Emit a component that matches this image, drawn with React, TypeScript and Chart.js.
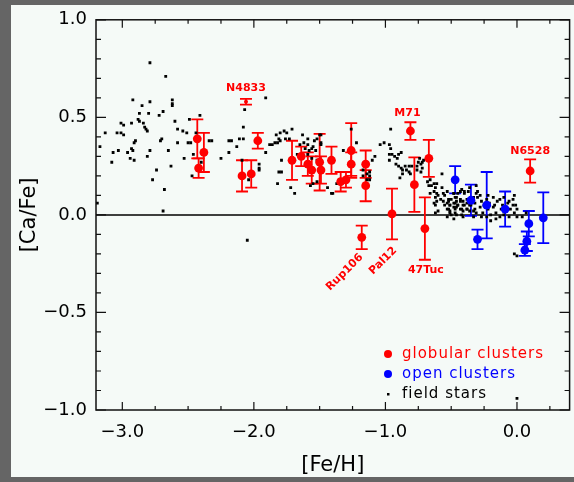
import React, { useEffect, useRef } from "react";
import { Chart, registerables } from "chart.js";
Chart.register(...registerables);

// ---------- data ----------
const gcNames = ["", "", "", "", "", "", "N4833", "", "", "", "", "", "", "", "", "", "", "", "", "", "Rup106", "Pal12", "M71", "", "", "47Tuc", "N6528"];
const gcFeH = [-2.43, -2.38, -2.42, -2.09, -2.02, -1.97, -2.06, -1.71, -1.64, -1.59, -1.56, -1.50, -1.49, -1.41, -1.34, -1.30, -1.26, -1.26, -1.15, -1.15, -1.18, -0.95, -0.81, -0.78, -0.67, -0.70, 0.10];
const gcCaFe = [0.39, 0.32, 0.24, 0.20, 0.21, 0.38, 0.58, 0.28, 0.30, 0.26, 0.23, 0.27, 0.23, 0.28, 0.17, 0.18, 0.33, 0.26, 0.26, 0.15, -0.115, 0.005, 0.43, 0.155, 0.29, -0.07, 0.225];
const gcErr = [0.10, 0.10, 0.05, 0.08, 0.07, 0.04, 0.015, 0.10, 0.05, 0.06, 0.07, 0.145, 0.07, 0.07, 0.05, 0.04, 0.14, 0.06, 0.07, 0.08, 0.06, 0.13, 0.045, 0.14, 0.095, 0.16, 0.06];

const ocFeH = [-0.47, -0.35, -0.30, -0.23, -0.09, 0.09, 0.075, 0.06, 0.20];
const ocCaFe = [0.18, 0.075, -0.125, 0.05, 0.03, -0.045, -0.135, -0.18, -0.015];
const ocErr = [0.07, 0.08, 0.05, 0.17, 0.09, 0.065, 0.05, 0.03, 0.13];

const fieldStars: [number, number][] = [
  [-2.79,0.78],[-2.67,0.71],[-2.92,0.59],[-2.85,0.56],[-2.79,0.58],[-2.62,0.59],[-2.62,0.57],[-2.62,0.56],[-2.87,0.52],[-2.80,0.52],
  [-2.72,0.51],[-2.69,0.53],[-2.60,0.48],[-2.49,0.49],[-2.41,0.51],[-3.01,0.47],[-2.99,0.46],[-2.93,0.47],[-2.88,0.49],[-2.87,0.48],
  [-2.84,0.47],[-2.83,0.45],[-2.82,0.44],[-2.81,0.43],[-2.58,0.44],[-2.54,0.43],[-2.51,0.42],[-2.44,0.42],[-3.13,0.42],[-3.04,0.42],
  [-3.01,0.42],[-2.99,0.41],[-2.70,0.39],[-2.71,0.38],[-2.90,0.38],[-2.91,0.37],[-2.58,0.37],[-2.50,0.37],[-2.48,0.37],[-2.34,0.38],
  [-2.32,0.38],[-2.19,0.38],[-2.17,0.38],[-3.17,0.35],[-2.93,0.34],[-2.92,0.33],[-2.79,0.33],[-2.65,0.33],[-3.07,0.32],[-3.03,0.33],
  [-2.96,0.32],[-2.81,0.30],[-2.19,0.32],[-2.94,0.29],[-2.91,0.28],[-2.53,0.29],[-2.25,0.29],[-3.08,0.27],[-2.63,0.25],[-2.74,0.23],
  [-2.46,0.31],[-2.40,0.27],[-2.77,0.18],[-2.68,0.13],[-3.19,0.06],[-2.69,0.02],[-2.47,0.20],[-2.05,-0.13],
  [-1.91,0.60],[-2.07,0.54],[-2.08,0.45],[-2.11,0.39],[-2.08,0.39],[-2.13,0.35],[-1.91,0.32],[-1.96,0.26],[-1.96,0.24],[-1.96,0.23],
  [-2.04,0.18],[-2.09,0.28],[-1.88,0.36],[-1.86,0.36],[-1.84,0.37],[-1.83,0.41],[-1.81,0.39],[-1.80,0.42],[-1.77,0.43],[-1.75,0.42],
  [-1.71,0.44],[-1.82,0.37],[-1.80,0.38],[-1.76,0.39],[-1.73,0.39],[-1.82,0.16],[-1.79,0.28],[-1.81,0.22],[-1.79,0.22],[-1.72,0.14],
  [-1.69,0.11],[-1.63,0.41],[-1.65,0.36],[-1.59,0.39],[-1.59,0.36],[-1.56,0.34],[-1.54,0.38],[-1.52,0.39],[-1.50,0.41],[-1.49,0.41],
  [-1.49,0.37],[-1.49,0.36],[-1.61,0.34],[-1.59,0.31],[-1.67,0.31],[-1.65,0.30],[-1.56,0.29],[-1.52,0.28],[-1.57,0.15],[-1.55,0.16],
  [-1.52,0.17],[-1.41,0.11],[-1.44,0.14],[-1.32,0.33],[-1.35,0.18],[-1.26,0.44],[-1.22,0.37],[-1.17,0.23],[-1.17,0.20],[-1.14,0.21],
  [-1.12,0.22],[-1.12,0.20],[-1.12,0.18],[-1.14,0.18],[-1.10,0.28],[-1.08,0.30],[-1.62,0.37],[-1.58,0.33],[-1.55,0.35],[-1.53,0.33],
  [-1.37,0.16],[-1.40,0.11],
  [-0.96,0.44],[-1.04,0.36],[-1.01,0.37],[-0.97,0.36],[-0.96,0.34],[-0.97,0.31],[-0.95,0.31],[-0.93,0.30],[-0.91,0.29],[-0.90,0.31],
  [-0.88,0.32],[-0.97,0.28],[-0.92,0.26],[-0.90,0.25],[-0.88,0.24],[-0.87,0.23],[-0.87,0.21],[-0.89,0.19],[-0.85,0.25],[-0.82,0.25],
  [-0.80,0.25],[-0.84,0.23],[-0.82,0.22],[-0.81,0.21],[-0.76,0.25],[-0.75,0.27],[-0.73,0.26],[-0.72,0.27],[-0.76,0.23],[-0.73,0.22],
  [-0.72,0.24],[-0.74,0.29],[-0.71,0.28],[-0.68,0.17],[-0.66,0.18],[-0.63,0.16],[-0.65,0.15],[-0.67,0.15],[-0.62,0.14],[-0.61,0.16],
  [-0.57,0.21],[-0.66,0.11],[-0.63,0.12],[-0.62,0.09],[-0.61,0.11],[-0.60,0.10],[-0.58,0.08],[-0.63,0.06],[-0.62,0.05],[-0.61,0.07],
  [-0.60,0.02],[-0.62,0.01],
  [-0.57,0.14],[-0.56,0.11],[-0.55,0.10],[-0.53,0.12],[-0.56,0.07],[-0.53,0.06],[-0.52,0.08],[-0.51,0.05],[-0.55,0.05],[-0.52,0.03],
  [-0.51,0.02],[-0.53,-0.01],[-0.50,0.00],[-0.48,-0.02],[-0.47,0.01],[-0.46,0.04],[-0.45,0.05],[-0.43,0.03],[-0.42,0.00],[-0.41,0.02],
  [-0.40,0.05],[-0.38,0.03],[-0.48,0.06],[-0.47,0.09],[-0.46,0.07],[-0.43,0.08],[-0.41,0.07],[-0.38,0.06],[-0.42,0.13],[-0.40,0.12],
  [-0.48,0.11],[-0.45,0.11],[-0.36,0.05],[-0.33,0.02],
  [-0.52,0.07],[-0.51,0.05],[-0.50,0.08],[-0.48,0.04],[-0.47,0.06],[-0.46,0.09],[-0.45,0.05],[-0.43,0.07],[-0.42,0.03],[-0.41,0.05],
  [-0.40,0.11],[-0.38,0.08],[-0.37,0.12],[-0.36,0.02],[-0.35,0.05],[-0.33,0.09],[-0.32,0.06],[-0.31,0.11],[-0.30,0.12],[-0.28,0.04],
  [-0.27,0.07],[-0.26,0.01],[-0.25,0.05],[-0.23,-0.01],[-0.22,0.03],[-0.21,0.06],[-0.20,0.00],[-0.18,0.04],[-0.17,0.05],[-0.16,0.01],
  [-0.15,0.07],[-0.13,-0.01],[-0.12,0.03],[-0.11,0.05],[-0.10,0.00],[-0.08,0.04],[-0.07,0.06],[-0.06,-0.01],[-0.05,0.03],[-0.03,0.05],
  [-0.02,0.01],[-0.01,0.05],[0.00,-0.01],[-0.51,0.01],[-0.46,0.00],[-0.41,-0.01],[-0.38,0.03],[-0.33,-0.01],[-0.31,0.01],[-0.28,0.10],
  [-0.27,-0.01],[-0.23,0.08],[-0.20,-0.03],[-0.16,-0.02],[-0.13,0.08],[-0.10,0.09],[-0.06,0.07],[-0.03,0.08],[0.00,0.03],[-0.02,0.10],
  [0.04,-0.01],[0.07,0.01],[-0.53,0.03],[-0.48,0.11],[-0.43,0.12],[-0.36,0.14],[-0.31,0.15],[-0.30,0.09],[-0.47,0.03],[-0.32,0.03],
  [-0.18,0.09],[-0.22,0.10],[0.00,-0.21],[-0.02,-0.20],[0.00,-0.94]
];

const xMajorTicks = [-3, -2, -1, 0];
const xMinorTicks = [-3.0, -2.75, -2.5, -2.25, -2.0, -1.75, -1.5, -1.25, -1.0, -0.75, -0.5, -0.25, 0.0, 0.25];
const yMajorTicks = [-1, -0.5, 0, 0.5, 1];
const yMinorTicks = [-0.9, -0.8, -0.7, -0.6, -0.4, -0.3, -0.2, -0.1, 0.1, 0.2, 0.3, 0.4, 0.6, 0.7, 0.8, 0.9];

const legendLabels = ["globular clusters", "open clusters", "field stars"];

// ---------- styles ----------
const RED = "#ff0000";
const BLUE = "#0000ff";
const FONT = "'DejaVu Sans', Verdana, sans-serif";
const labelStyle: Record<string, { dx: number; dy: number; rot: number }> = {
  N4833: { dx: 0, dy: -14, rot: 0 },
  M71: { dx: -3, dy: -18, rot: 0 },
  N6528: { dx: 0, dy: -20, rot: 0 },
  "47Tuc": { dx: 1, dy: 42, rot: 0 },
  Rup106: { dx: -17, dy: 35, rot: -Math.PI / 4 },
  Pal12: { dx: -9, dy: 47, rot: -Math.PI / 4 },
};

const fmt = (v: number) => (v < 0 ? "\u2212" : "") + Math.abs(v).toFixed(1);

const errMap: Record<string, number[]> = { gc: gcErr, oc: ocErr };
const errColor: Record<string, string> = { gc: RED, oc: BLUE };

const bgPlugin = {
  id: "bgPanel",
  beforeDraw(chart: any) {
    const c = chart.ctx;
    c.save();
    c.fillStyle = "#656565";
    c.fillRect(0, 0, chart.width, chart.height);
    c.fillStyle = "#f5faf7";
    c.fillRect(11, 5, chart.width - 11, 472);
    c.restore();
  },
};

const framePlugin = {
  id: "frame",
  beforeDatasetsDraw(chart: any) {
    const c = chart.ctx;
    const { left, right } = chart.chartArea;
    const ys = chart.scales.y;
    c.save();
    c.strokeStyle = "#000";
    c.lineWidth = 1.5;
    const y0 = ys.getPixelForValue(0);
    c.beginPath();
    c.moveTo(left, y0);
    c.lineTo(right, y0);
    c.stroke();
    // error bars
    chart.data.datasets.forEach((ds: any, i: number) => {
      const errs = errMap[ds.key];
      if (!errs) return;
      const meta = chart.getDatasetMeta(i);
      c.strokeStyle = errColor[ds.key];
      c.lineWidth = 1.8;
      meta.data.forEach((pt: any, j: number) => {
        const d = ds.data[j];
        const e = errs[j];
        const x = pt.x;
        const yt = ys.getPixelForValue(d.y + e);
        const yb = ys.getPixelForValue(d.y - e);
        const cap = 6;
        c.beginPath();
        c.moveTo(x, yt); c.lineTo(x, yb);
        c.moveTo(x - cap, yt); c.lineTo(x + cap, yt);
        c.moveTo(x - cap, yb); c.lineTo(x + cap, yb);
        c.stroke();
      });
    });
    c.restore();
  },
  afterDraw(chart: any) {
    const c = chart.ctx;
    const { left, right, top, bottom } = chart.chartArea;
    const xs = chart.scales.x, ys = chart.scales.y;
    c.save();
    c.strokeStyle = "#111";
    c.lineWidth = 1.5;
    c.strokeRect(left, top, right - left, bottom - top);
    c.lineWidth = 1.2;
    c.beginPath();
    xMinorTicks.forEach((v) => {
      const p = xs.getPixelForValue(v);
      const len = xMajorTicks.includes(v) ? 8 : 4;
      c.moveTo(p, bottom); c.lineTo(p, bottom - len);
      c.moveTo(p, top); c.lineTo(p, top + len);
    });
    [...yMinorTicks, ...yMajorTicks].forEach((v) => {
      const p = ys.getPixelForValue(v);
      const len = yMajorTicks.includes(v) ? 10 : 5;
      c.moveTo(left, p); c.lineTo(left + len, p);
      c.moveTo(right, p); c.lineTo(right - len, p);
    });
    c.stroke();
    // cluster labels
    const gcMeta = chart.getDatasetMeta(0);
    c.fillStyle = RED;
    c.font = `bold 11px ${FONT}`;
    c.textAlign = "center";
    c.textBaseline = "middle";
    gcNames.forEach((n, i) => {
      if (!n) return;
      const pt = gcMeta.data[i];
      const st = labelStyle[n];
      c.save();
      c.translate(pt.x + st.dx, pt.y + st.dy);
      c.rotate(st.rot);
      c.fillText(n, 0, 0);
      c.restore();
    });
    // legend
    const lx = left + 292;
    const lys = [354, 374, 394];
    const cols = [RED, BLUE, "#000"];
    c.font = `15px ${FONT}`;
    try { (c as any).letterSpacing = "1px"; } catch (e) {}
    c.textAlign = "left";
    legendLabels.forEach((t, i) => {
      c.fillStyle = cols[i];
      c.beginPath();
      if (i < 2) c.arc(lx, lys[i], 4, 0, Math.PI * 2);
      else c.rect(lx - 1, lys[i] - 1, 2.5, 2.5);
      c.fill();
      c.fillText(t, lx + 14, lys[i]);
    });
    c.restore();
  },
};

export default function App() {
  const ref = useRef<HTMLCanvasElement | null>(null);
  useEffect(() => {
    if (!ref.current) return;
    const chart = new Chart(ref.current, {
      type: "scatter",
      data: {
        datasets: [
          {
            key: "gc",
            label: "globular clusters",
            data: gcFeH.map((x, i) => ({ x, y: gcCaFe[i] })),
            backgroundColor: RED,
            borderWidth: 0,
            pointRadius: (ctx: any) => (gcNames[ctx.dataIndex] === "N4833" ? 2 : 4.4),
          } as any,
          {
            key: "oc",
            label: "open clusters",
            data: ocFeH.map((x, i) => ({ x, y: ocCaFe[i] })),
            backgroundColor: BLUE,
            borderWidth: 0,
            pointRadius: 4.4,
          } as any,
          {
            key: "fs",
            label: "field stars",
            data: fieldStars.map(([x, y]) => ({ x, y })),
            backgroundColor: "#000",
            borderWidth: 0,
            pointStyle: "rect",
            pointRadius: 2,
          } as any,
        ],
      },
      options: {
        animation: false,
        responsive: false,
        devicePixelRatio: 1,
        layout: { padding: { left: 0, top: 18, right: 1, bottom: 0 } },
        plugins: { legend: { display: false }, tooltip: { enabled: false } },
        scales: {
          x: {
            type: "linear",
            min: -3.2,
            max: 0.4,
            grid: { display: false, drawTicks: false },
            border: { display: false },
            afterBuildTicks: (s: any) => { s.ticks = xMajorTicks.map((v) => ({ value: v })); },
            afterFit: (s: any) => { s.height = 72; },
            ticks: { padding: 12, color: "#000", autoSkip: false, maxRotation: 0, font: { family: FONT, size: 18 }, callback: (v: any) => fmt(Number(v)) },
            title: { display: true, text: "[Fe/H]", color: "#000", font: { family: FONT, size: 21 }, padding: { top: 0, bottom: 4 } },
          },
          y: {
            type: "linear",
            min: -1,
            max: 1,
            grid: { display: false, drawTicks: false },
            border: { display: false },
            afterBuildTicks: (s: any) => { s.ticks = yMajorTicks.map((v) => ({ value: v })); },
            afterFit: (s: any) => { s.width = 96; },
            ticks: { padding: 9, color: "#000", autoSkip: false, font: { family: FONT, size: 18 }, callback: (v: any) => fmt(Number(v)) },
            title: { display: true, text: "[Ca/Fe]", color: "#000", font: { family: FONT, size: 21 }, padding: { top: 17, bottom: 0 } },
          },
        },
      },
      plugins: [bgPlugin, framePlugin],
    } as any);
    return () => chart.destroy();
  }, []);
  return (
    <canvas
      ref={ref}
      width={574}
      height={482}
      style={{ position: "fixed", left: 0, top: 0, width: 574, height: 482, display: "block" }}
    />
  );
}
